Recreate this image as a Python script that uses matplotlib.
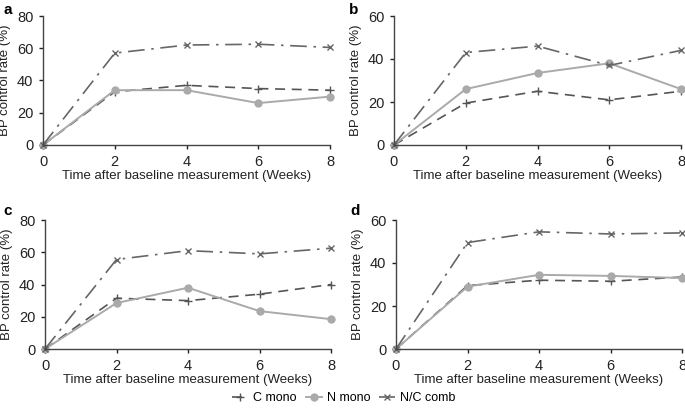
import numpy as np
import matplotlib
matplotlib.use("Agg")
import matplotlib.pyplot as plt

plt.rcParams['font.family'] = ['Liberation Sans', 'DejaVu Sans']

# Weeks after baseline
weeks = [0, 2, 4, 6, 8]

# BP control rate (%) per panel
c_mono_a = [0, 33, 37, 35, 34]
n_mono_a = [0, 34, 34, 26, 30]
comb_a = [0, 57, 62, 62.5, 60.5]

c_mono_b = [0, 19.5, 25, 21, 25]
n_mono_b = [0, 26, 33.5, 38, 26]
comb_b = [0, 43, 46, 37, 44]

c_mono_c = [0, 31.5, 30, 34, 40]
n_mono_c = [0, 28.5, 38, 23.5, 18.5]
comb_c = [0, 55.5, 61, 59, 62.5]

c_mono_d = [0, 29.5, 32, 31.5, 33.5]
n_mono_d = [0, 29, 34.5, 34, 33]
comb_d = [0, 49.5, 54.5, 53.5, 54]

panel_labels = ['a', 'b', 'c', 'd']
y_max = [80, 60, 80, 60]
series = [(c_mono_a, n_mono_a, comb_a), (c_mono_b, n_mono_b, comb_b),
          (c_mono_c, n_mono_c, comb_c), (c_mono_d, n_mono_d, comb_d)]

fig = plt.figure(figsize=(6.85, 4.11), dpi=100)
W, H = 685, 411
# axes boxes in pixels: left, top, right, bottom
boxes = [(43, 16, 330, 145), (394, 16, 681, 145),
         (45, 220, 331, 349), (396, 220, 682, 349)]
label_pos = [(3, 3), (349, 3), (3, 204), (350, 204)]

handles = None
for i, (l, t, r, b) in enumerate(boxes):
    ax = fig.add_axes([l / W, 1 - b / H, (r - l) / W, (b - t) / H])
    c, n, m = series[i]
    h1, = ax.plot(weeks, c, color='#555555', ls=(0, (6, 4)), lw=1.2,
                  marker='+', ms=6, mew=1.0, label='C mono')
    h2, = ax.plot(weeks, n, color='#aaaaaa', ls='-', lw=1.4,
                  marker='o', ms=5, label='N mono')
    h3, = ax.plot(weeks, m, color='#666666', ls=(0, (10, 4, 1.5, 4)), lw=1.2,
                  marker='x', ms=5, mew=1.0, label='N/C comb')
    handles = [h1, h2, h3]
    ax.set_xlim(0, 8)
    ax.set_ylim(0, y_max[i])
    ax.set_xticks([0, 2, 4, 6, 8])
    ax.set_yticks(np.arange(0, y_max[i] + 1, 20))
    for s in ['top', 'right']:
        ax.spines[s].set_visible(False)
    for s in ['left', 'bottom']:
        ax.spines[s].set_color('#444444')
        ax.spines[s].set_linewidth(1.0)
    ax.tick_params(colors='#222222', labelsize=10.5, length=3, width=1.0,
                   direction='out', pad=4)
    ax.set_xlabel('Time after baseline measurement (Weeks)', fontsize=9.5,
                  color='#222222', labelpad=1)
    ax.set_ylabel('BP control rate (%)', fontsize=9.5, color='#222222', labelpad=4)
    for ln in ax.lines:
        ln.set_clip_on(False)
    lx, ly = label_pos[i]
    fig.text(lx / W, 1 - ly / H, panel_labels[i], fontsize=11,
             fontweight='bold', va='top', ha='left')

fig.legend(handles=handles, loc='center', bbox_to_anchor=(344 / W, 1 - 398 / H),
           ncol=3, frameon=False, fontsize=9, handlelength=1.3,
           columnspacing=0.7, handletextpad=0.4)

fig.savefig('out.png', dpi=100)
